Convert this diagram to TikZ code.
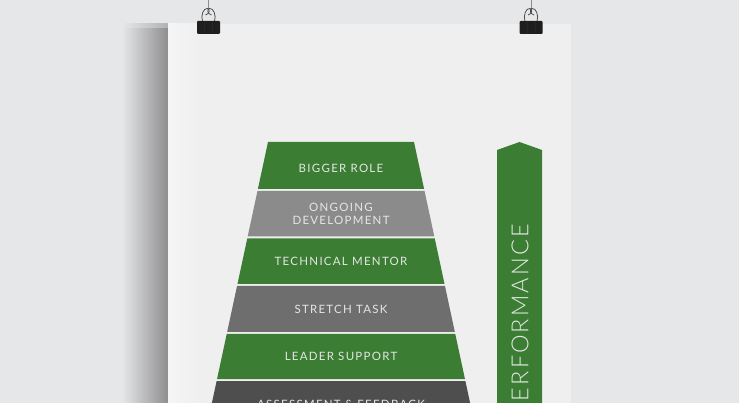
\documentclass[tikz,border=0pt]{standalone}
\usepackage{fontspec}
\setmainfont{Lato}
\newfontfamily\tierfont[LetterSpace=11]{Lato}
\newfontfamily\perffont[LetterSpace=9]{Lato Light}
\definecolor{wall}{HTML}{E6E7E9}
\definecolor{wallshadow}{HTML}{8E8E8F}
\definecolor{poster}{HTML}{EFEFEF}
\definecolor{pgreen}{HTML}{3B7D33}
\definecolor{pgrayA}{HTML}{8B8B8B}
\definecolor{pgrayB}{HTML}{6E6E6E}
\definecolor{pgrayC}{HTML}{4E4E4E}
\definecolor{tiertext}{HTML}{E4E6E4}
\definecolor{clipblack}{HTML}{1E1E1E}
\begin{document}
\begin{tikzpicture}[x=1pt,y=-1pt,
  tier/.style={inner sep=0pt, text=tiertext, align=center,
    font=\tierfont\fontsize{11.5}{13}\selectfont},
  perf/.style={inner sep=0pt, text=tiertext, rotate=90, anchor=east,
    font=\perffont\fontsize{23.5}{26}\selectfont},
  wire/.style={draw=black!70, line width=0.8pt},
  string/.style={draw=black!45, line width=0.5pt},
]
\useasboundingbox (0,0) rectangle (739,403);
\clip (0,0) rectangle (739,403);
% wall and poster
\fill[wall] (0,0) rectangle (739,403);
\shade[left color=wall, right color=wallshadow] (122,28) rectangle (168,403);
\shade[left color=wall, right color=wallshadow!60!wall] (122,24) rectangle (168,28);
\fill[poster] (168,24) rectangle (571,403);
\shade[left color=white!96!black, right color=poster] (168,24) rectangle (200,403);
% pyramid tiers
\foreach \t/\b/\c in {142/189/pgreen, 191/236.5/pgrayA, 238.5/284/pgreen,
                      286/332/pgrayB, 334/379/pgreen, 381/440/pgrayC}{
  \pgfmathsetmacro\wt{73+0.215*(\t-142)}
  \pgfmathsetmacro\wb{73+0.215*(\b-142)}
  \fill[\c] (341-\wt,\t) -- (341+\wt,\t) -- (341+\wb,\b) -- (341-\wb,\b) -- cycle;
}
\node[tier] (t1) at (341,168) {BIGGER ROLE};
\node[tier] (t2) at (341,213.5) {ONGOING\\DEVELOPMENT};
\node[tier] (t3) at (341,261.5) {TECHNICAL MENTOR};
\node[tier] (t4) at (341,309) {STRETCH TASK};
\node[tier] (t5) at (341,356) {LEADER SUPPORT};
\node[tier] (t6) at (341,404) {ASSESSMENT \& FEEDBACK};
% performance arrow
\fill[pgreen] (497,150) -- (519.5,142) -- (542,150) -- (542,420) -- (497,420) -- cycle;
\node[perf] (perf) at (520,224) {PERFORMANCE};
% binder clips
\foreach \cx in {208.5,531}{
  \draw[string] (\cx,0) -- (\cx,10);
  \draw[wire] (\cx-6,21.5) .. controls (\cx-8,15) and (\cx-5,8) .. (\cx-1,8.5)
              .. controls (\cx+2,9) and (\cx+1,14) .. (\cx-3,15);
  \draw[wire] (\cx+6,21.5) .. controls (\cx+8,15) and (\cx+5,8) .. (\cx+1,8.5)
              .. controls (\cx-2,9) and (\cx-1,14) .. (\cx+3,15);
  \fill[clipblack, rounded corners=1pt] (\cx-11.5,21) rectangle (\cx+11.5,34);
  \draw[black!85!white, line width=0.6pt] (\cx-4,22) -- (\cx-4,33) (\cx+4,22) -- (\cx+4,33);
}
\end{tikzpicture}
\end{document}
